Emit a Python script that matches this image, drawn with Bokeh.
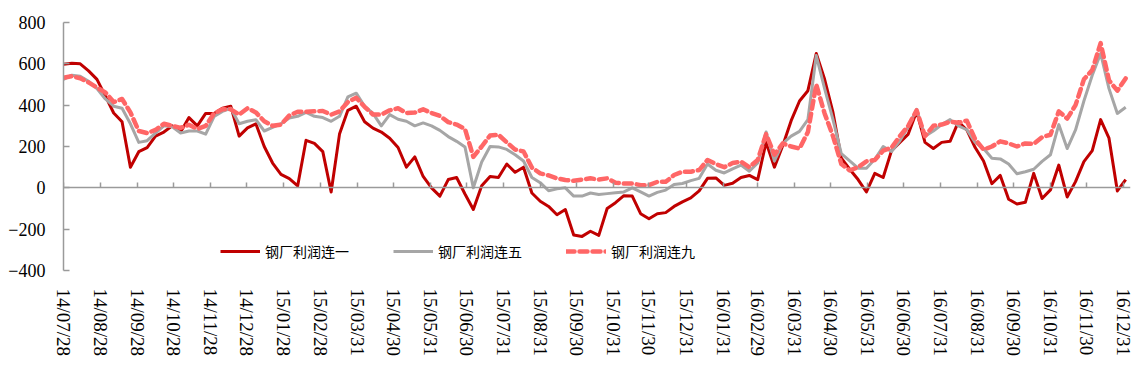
import pandas as pd
from bokeh.plotting import figure
from bokeh.models import (DatetimeAxis, FixedTicker, DatetimeTickFormatter, Range1d,
                          Legend, LegendItem, LinearAxis)
from bokeh.embed import file_html
from bokeh.resources import INLINE

# ---------------- data (weekly readings) ----------------
start_date = "2014-07-28"
n_weeks = 128

lian1 = [598, 603, 600, 566, 525, 445, 362, 320, 100, 175, 195, 250, 270, 300, 270, 340,
         300, 360, 360, 385, 395, 250, 290, 310, 200, 120, 65, 45, 10, 230, 215, 175,
         -20, 260, 375, 395, 320, 289, 270, 240, 195, 100, 150, 55, 0, -40, 40, 50,
         -30, -105, 10, 55, 50, 115, 75, 100, -25, -65, -90, -130, -105, -228, -235, -210,
         -230, -100, -72, -38, -40, -125, -150, -125, -120, -90, -68, -49, -15, 46, 48, 12,
         22, 50, 60, 40, 220, 100, 205, 325, 420, 470, 650, 525, 365, 143, 90, 40,
         -20, 70, 50, 180, 220, 260, 370, 220, 190, 220, 225, 320, 280, 195, 130, 20,
         60, -55, -78, -70, 70, -52, -10, 110, -44, 30, 127, 180, 330, 240, -15, 40]

lian5 = [525, 545, 540, 515, 480, 430, 395, 385, 310, 220, 228, 265, 300, 295, 265, 275,
         275, 260, 345, 370, 385, 310, 322, 330, 275, 292, 310, 338, 346, 365, 346, 340,
         322, 346, 440, 458, 395, 360, 300, 354, 332, 322, 300, 314, 300, 278, 248, 225,
         198, 0, 125, 200, 198, 186, 160, 130, 50, 25, -14, -5, 0, -40, -40, -25,
         -32, -28, -24, -20, 0, -20, -40, -22, -11, 16, 21, 35, 46, 115, 85, 72,
         92, 110, 80, 120, 270, 130, 215, 250, 273, 330, 640, 480, 330, 165, 130, 95,
         95, 138, 200, 176, 228, 295, 380, 250, 275, 306, 330, 300, 281, 220, 190, 143,
         140, 115, 68, 78, 90, 128, 160, 306, 190, 280, 420, 545, 650, 480, 360, 390]

lian9 = [533, 540, 530, 510, 485, 462, 415, 430, 365, 275, 265, 280, 310, 300, 290, 305,
         285, 300, 360, 380, 380, 354, 385, 365, 322, 300, 306, 350, 368, 368, 370, 372,
         354, 370, 415, 436, 392, 355, 354, 375, 385, 362, 364, 380, 362, 348, 318, 306,
         285, 150, 200, 253, 257, 220, 185, 176, 98, 70, 60, 46, 38, 34, 40, 46,
         40, 46, 25, 21, 21, 13, 13, 29, 29, 62, 78, 78, 86, 135, 115, 100,
         120, 127, 100, 135, 260, 160, 215, 200, 190, 270, 500, 360, 250, 115, 84, 100,
         128, 135, 180, 195, 250, 300, 375, 250, 300, 306, 320, 315, 325, 235, 185, 200,
         225, 215, 200, 215, 212, 245, 257, 370, 335, 400, 525, 570, 700, 520, 470, 530]

series_names = ["钢厂利润连一", "钢厂利润连五", "钢厂利润连九"]

tick_labels = ["14/07/28", "14/08/28", "14/09/28", "14/10/28", "14/11/28", "14/12/28",
               "15/01/28", "15/02/28", "15/03/31", "15/04/30", "15/05/31", "15/06/30",
               "15/07/31", "15/08/31", "15/09/30", "15/10/31", "15/11/30", "15/12/31",
               "16/01/31", "16/02/29", "16/03/31", "16/04/30", "16/05/31", "16/06/30",
               "16/07/31", "16/08/31", "16/09/30", "16/10/31", "16/11/30", "16/12/31"]

y_ticks = [-400, -200, 0, 200, 400, 600, 800]

# ---------------- build ----------------
dates = pd.date_range(start_date, periods=n_weeks, freq="7D")
tick_dates = pd.to_datetime(tick_labels, format="%y/%m/%d")
tick_ms = [float(d.value // 10**6) for d in tick_dates]

x_start = pd.Timestamp(start_date)
x_end = x_start + pd.Timedelta(days=893)

p = figure(width=1143, height=378, output_backend="svg", toolbar_location=None,
           x_axis_type=None, y_axis_type=None,
           x_range=Range1d(x_start, x_end), y_range=Range1d(-400, 800),
           min_border_left=63, min_border_right=13, min_border_top=22, min_border_bottom=108)
p.outline_line_color = None
p.xgrid.visible = False
p.ygrid.visible = False
p.background_fill_color = "white"

axis_col = "#9a9a9a"
serif = "Liberation Serif, Times New Roman, serif"

# y axis
yax = LinearAxis(ticker=FixedTicker(ticks=y_ticks))
yax.axis_line_color = axis_col
yax.axis_line_width = 1.5
yax.major_tick_line_color = axis_col
yax.major_tick_line_width = 1.5
yax.major_tick_in = 6
yax.major_tick_out = 0
yax.minor_tick_line_color = None
yax.major_label_text_font = serif
yax.major_label_text_font_size = "18px"
yax.major_label_text_color = "#000000"
yax.major_label_standoff = 18
p.add_layout(yax, "left")

fmt = DatetimeTickFormatter(days="%y/%m/%d", months="%y/%m/%d", years="%y/%m/%d",
                            hours="%y/%m/%d", minutes="%y/%m/%d", seconds="%y/%m/%d",
                            milliseconds="%y/%m/%d", microseconds="%y/%m/%d",
                            hourmin="%y/%m/%d", minsec="%y/%m/%d")

# x axis line at zero with ticks pointing up
zax = DatetimeAxis(ticker=FixedTicker(ticks=tick_ms), formatter=fmt, fixed_location=0)
zax.axis_line_color = axis_col
zax.axis_line_width = 1.5
zax.major_tick_line_color = axis_col
zax.major_tick_line_width = 1.5
zax.major_tick_in = 5
zax.major_tick_out = 0
zax.minor_tick_line_color = None
zax.major_label_text_alpha = 0
zax.major_label_text_font_size = "1px"
p.add_layout(zax, "below")

# x labels at bottom
xax = DatetimeAxis(ticker=FixedTicker(ticks=tick_ms), formatter=fmt)
xax.axis_line_color = None
xax.major_tick_line_color = None
xax.minor_tick_line_color = None
xax.major_label_orientation = "vertical"
xax.major_label_text_font = serif
xax.major_label_text_font_size = "19px"
xax.major_label_text_color = "#000000"
xax.major_label_standoff = 12
p.add_layout(xax, "below")

r1 = p.line(dates, lian1, line_color="#C00000", line_width=3, line_join="round")
r5 = p.line(dates, lian5, line_color="#A6A6A6", line_width=3, line_join="round")
r9 = p.line(dates, lian9, line_color="#FF6666", line_width=4.5, line_dash="8 5",
            line_cap="round", line_join="round")

legend = Legend(items=[LegendItem(label=series_names[0], renderers=[r1]),
                       LegendItem(label=series_names[1], renderers=[r5]),
                       LegendItem(label=series_names[2], renderers=[r9])],
                orientation="horizontal", location=(157, 9))
legend.glyph_width = 40
legend.glyph_height = 16
legend.label_standoff = 5
legend.spacing = 44
legend.padding = 0
legend.margin = 0
legend.border_line_color = None
legend.background_fill_alpha = 0
legend.label_text_font = "Noto Sans CJK SC"
legend.label_text_font_size = "14px"
legend.label_text_color = "#000000"
p.add_layout(legend, "center")

open("out.html", "w").write(file_html(p, INLINE))
